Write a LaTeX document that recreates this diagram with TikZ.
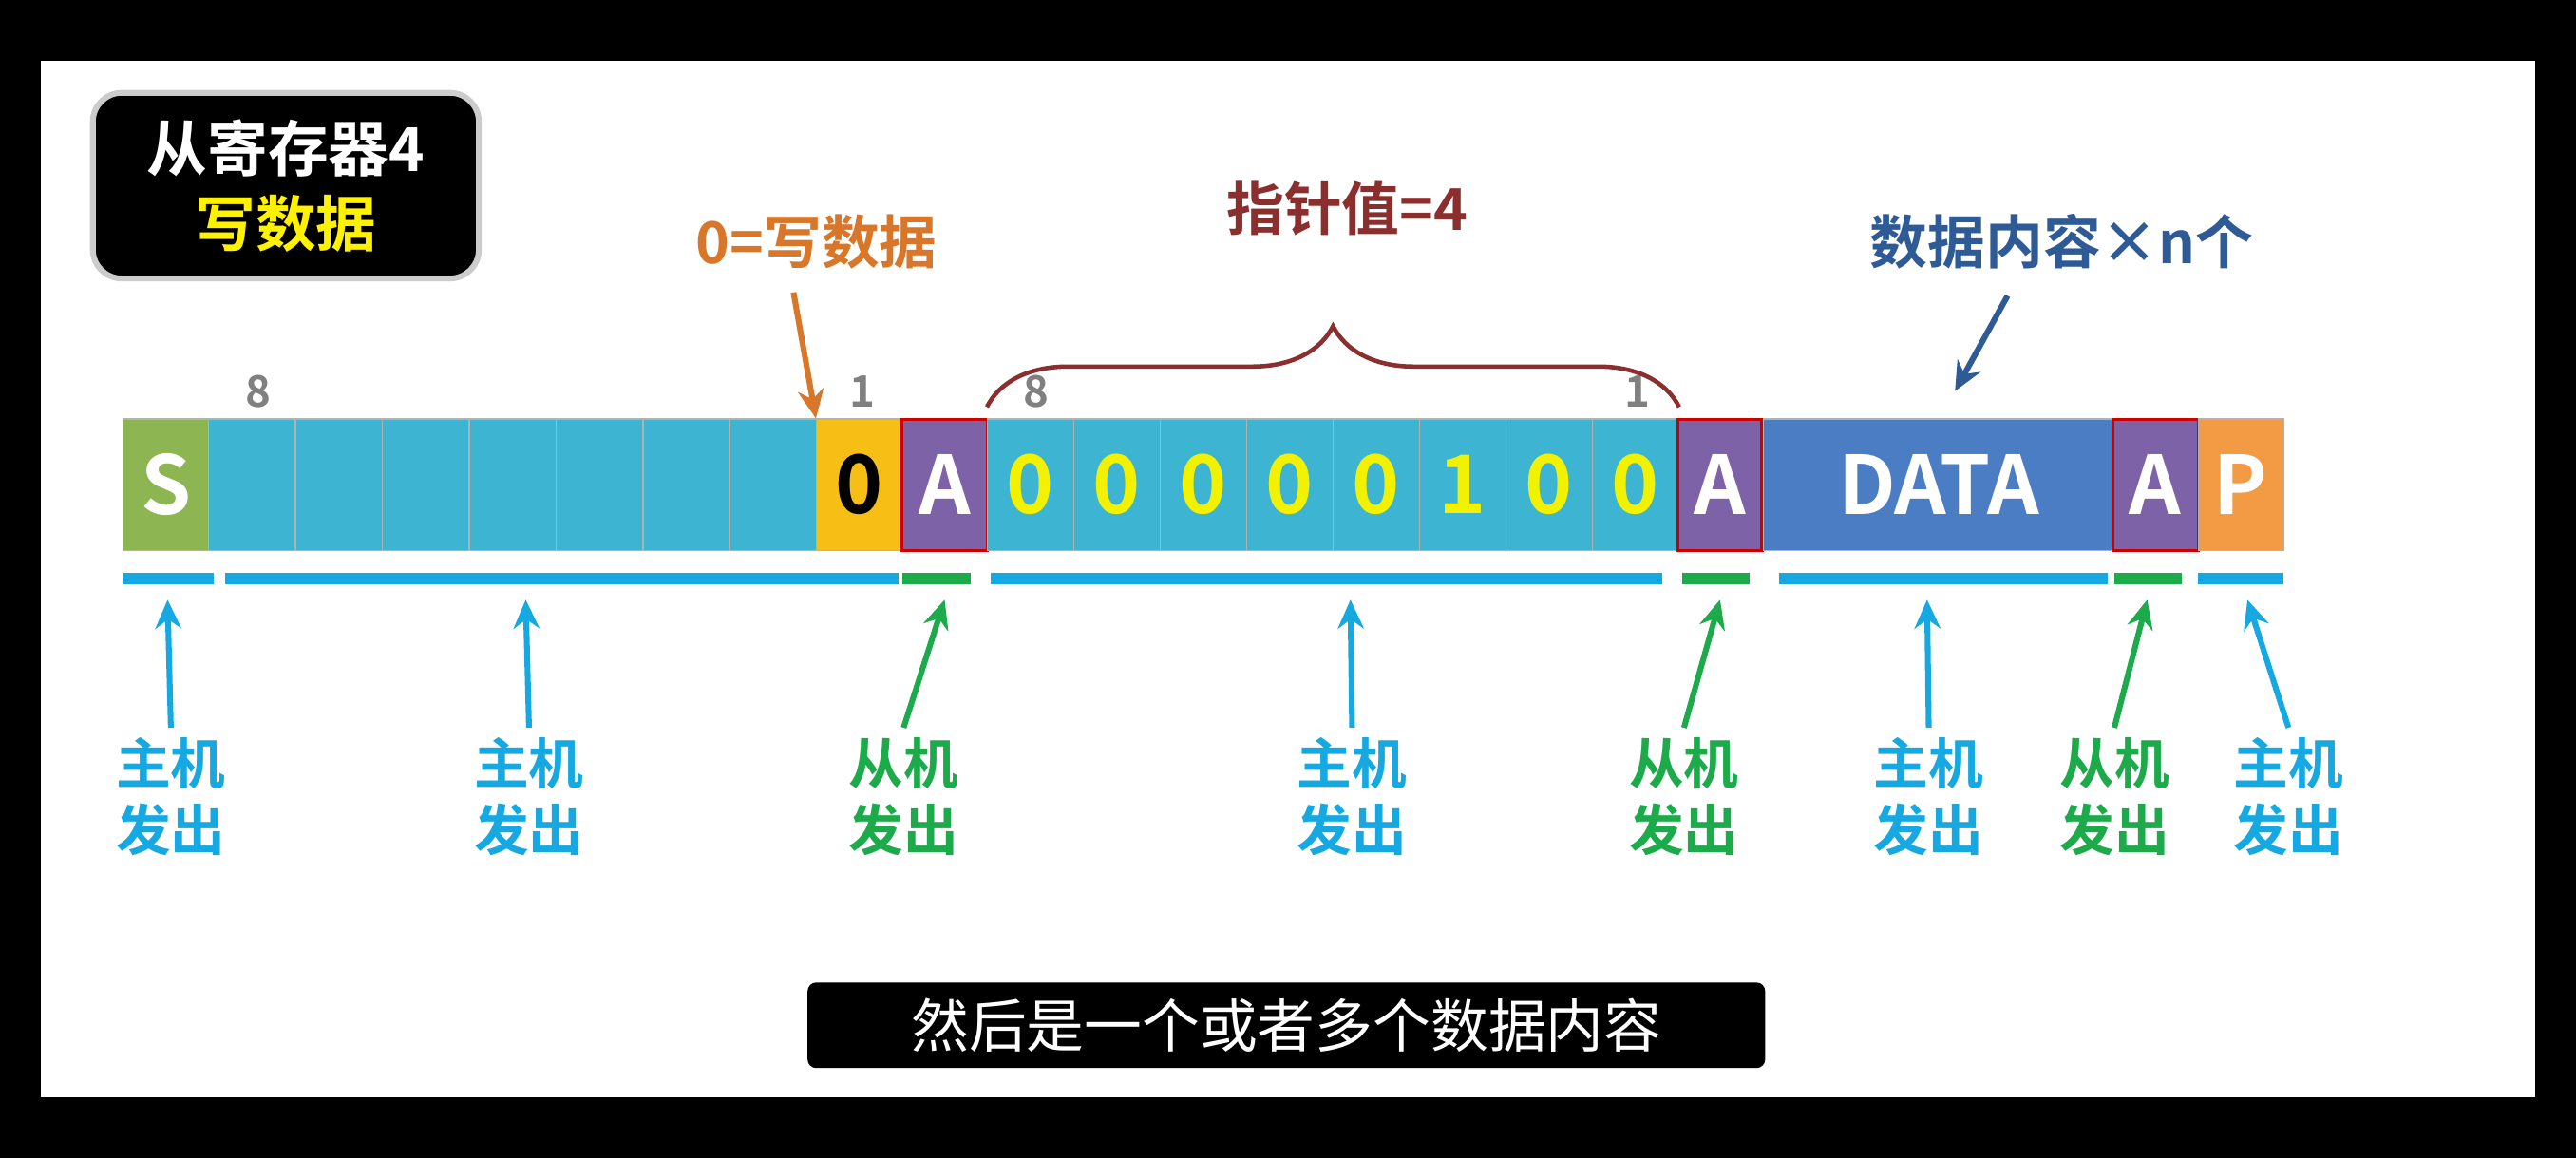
\documentclass[tikz,border=0pt]{standalone}
\usepackage{fontspec}
\setmainfont{Noto Sans CJK SC}[BoldFont=* Bold]
\usetikzlibrary{decorations.pathreplacing,arrows.meta}
\definecolor{cellblue}{HTML}{3DB4D2}
\definecolor{datablue}{HTML}{4A7DC4}
\definecolor{ackpurple}{HTML}{7D62A8}
\definecolor{sgreen}{HTML}{8DB552}
\definecolor{porange}{HTML}{F39A45}
\definecolor{zeroyellow}{HTML}{F7BE16}
\definecolor{digit}{HTML}{F2F200}
\definecolor{hostblue}{HTML}{16A9E1}
\definecolor{slavegreen}{HTML}{1DAA4B}
\definecolor{braceRed}{HTML}{8B2E2E}
\definecolor{noteorange}{HTML}{D8762A}
\definecolor{notenavy}{HTML}{2E5B96}
\begin{document}
\begin{tikzpicture}[x=0.02cm, y=-0.02cm,
    cell/.style={rectangle, draw=gray!60, fill=cellblue, minimum height=1.6cm, inner sep=0pt, font=\bfseries\fontsize{28}{28}\selectfont, text=white},
    ack/.style={cell, draw=red!80!black, line width=1pt, fill=ackpurple},
    bitno/.style={font=\bfseries\fontsize{15}{15}\selectfont, text=gray},
    who/.style={align=center, font=\bfseries\fontsize{19}{23}\selectfont},
    uline/.style={line width=4pt},
    up/.style={-{Stealth[length=10pt,width=9pt]}, line width=2pt}
]
    % background
    \fill[black] (0,0) rectangle (1568,705);
    \fill[white] (25,37) rectangle (1543,668);

    % title
    \node[rectangle, rounded corners=10pt, fill=black, draw=gray!40, line width=2pt, minimum width=4.7cm, minimum height=2.26cm, align=center, font=\bfseries\fontsize{21}{26}\selectfont] (title) at (174,113) {\textcolor{white}{从寄存器4}\\\textcolor{yellow}{写数据}};

    % frame cells
    \node[cell, fill=sgreen, minimum width=1.04cm] (s) at (101,295) {S};
    \foreach \i in {1,...,7}
        \node[cell, minimum width=1.06cm] (a\i) at ({127+(\i-0.5)*52.9},295) {};
    \node[cell, fill=zeroyellow, text=black, minimum width=1.04cm] (rw) at (523,295) {0};
    \node[ack, minimum width=1.04cm] (ack1) at (575,295) {A};
    \foreach \d [count=\i] in {0,0,0,0,0,1,0,0}
        \node[cell, text=digit, minimum width=1.05cm] (r\i) at ({601+(\i-0.5)*52.6},295) {\d};
    \node[ack, minimum width=1.02cm] (ack2) at (1047,295) {A};
    \node[cell, fill=datablue, minimum width=4.26cm] (data) at (1180,295) {DATA};
    \node[ack, minimum width=1.04cm] (ack3) at (1312,295) {A};
    \node[cell, fill=porange, minimum width=1.04cm] (p) at (1364,295) {P};

    % bit numbers
    \node[bitno] (n8a) at (157,238) {8};
    \node[bitno] (n1a) at (525,238) {1};
    \node[bitno] (n8b) at (631,238) {8};
    \node[bitno] (n1b) at (997,238) {1};

    % notes above
    \node[text=noteorange, font=\bfseries\fontsize{20}{20}\selectfont] (rwnote) at (497,147) {0=写数据};
    \draw[up, noteorange] (483,178) -- (rw.north west);
    \draw[braceRed, line width=1.5pt, decorate, decoration={brace, amplitude=28pt}] ([yshift=0.14cm]r1.north west) -- ([yshift=0.14cm]r8.north east);
    \node[text=braceRed, font=\bfseries\fontsize{20}{20}\selectfont] (ptr) at (820,127) {指针值=4};
    \node[text=notenavy, font=\bfseries\fontsize{20}{20}\selectfont] (datanote) at (1255,147) {数据内容×n个};
    \draw[up, notenavy] (1222,180) -- (1190,238);

    % sender lines
    \draw[uline, hostblue] (75,352) -- (130,352);
    \draw[uline, hostblue] (137,352) -- (547,352);
    \draw[uline, slavegreen] (549,352) -- (591,352);
    \draw[uline, hostblue] (603,352) -- (1012,352);
    \draw[uline, slavegreen] (1024,352) -- (1065,352);
    \draw[uline, hostblue] (1083,352) -- (1283,352);
    \draw[uline, slavegreen] (1287,352) -- (1328,352);
    \draw[uline, hostblue] (1338,352) -- (1390,352);

    % who sends
    \node[who, text=hostblue] (w1) at (104,485) {主机\\发出};
    \node[who, text=hostblue] (w2) at (322,485) {主机\\发出};
    \node[who, text=slavegreen] (w3) at (550,485) {从机\\发出};
    \node[who, text=hostblue] (w4) at (823,485) {主机\\发出};
    \node[who, text=slavegreen] (w5) at (1025,485) {从机\\发出};
    \node[who, text=hostblue] (w6) at (1174,485) {主机\\发出};
    \node[who, text=slavegreen] (w7) at (1287,485) {从机\\发出};
    \node[who, text=hostblue] (w8) at (1393,485) {主机\\发出};

    \draw[up, hostblue] (w1.north) -- (102,365);
    \draw[up, hostblue] (w2.north) -- (320,365);
    \draw[up, slavegreen] (w3.north) -- (575,365);
    \draw[up, hostblue] (w4.north) -- (822,365);
    \draw[up, slavegreen] (w5.north) -- (1047,365);
    \draw[up, hostblue] (w6.north) -- (1173,365);
    \draw[up, slavegreen] (w7.north) -- (1307,365);
    \draw[up, hostblue] (w8.north) -- (1368,365);

    % subtitle
    \node[fill=black, text=white, rounded corners=3pt, minimum width=11.66cm, minimum height=1.04cm, font=\fontsize{20}{20}\selectfont] (sub) at (783,624) {然后是一个或者多个数据内容};
\end{tikzpicture}
\end{document}
